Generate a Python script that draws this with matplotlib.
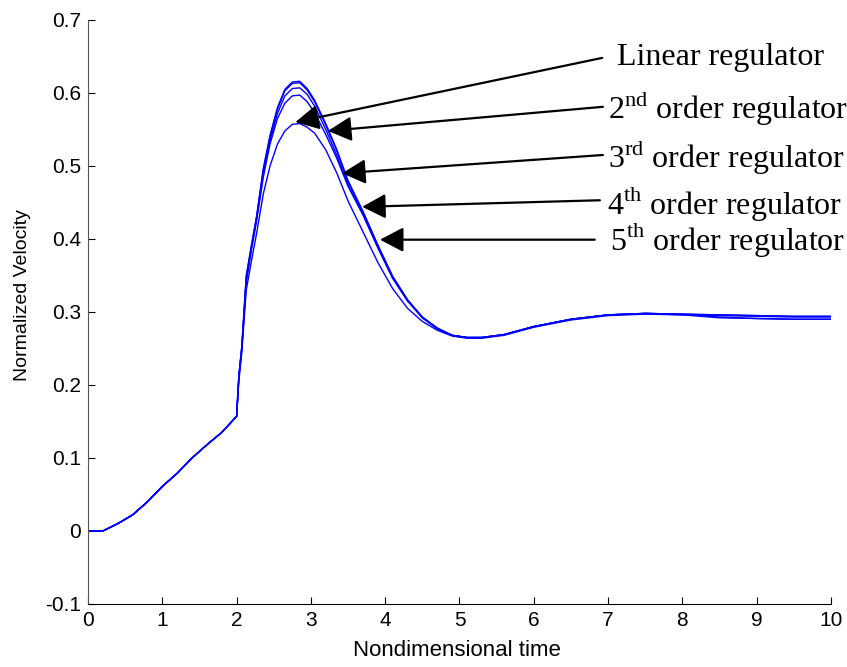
import matplotlib
matplotlib.use("Agg")
import matplotlib.pyplot as plt

plt.rcParams['mathtext.fontset'] = 'custom'
plt.rcParams['mathtext.rm'] = 'Liberation Serif'
plt.rcParams['font.family'] = 'Liberation Sans'

# ---- data ----
t = [0, 0.2, 0.4, 0.6, 0.8, 1.0, 1.2, 1.4, 1.6, 1.8, 2.0, 2.03, 2.07, 2.13,
     2.2, 2.27, 2.36, 2.45, 2.55, 2.65, 2.75, 2.85, 2.95, 3.05, 3.2, 3.35,
     3.5, 3.7, 3.9, 4.1, 4.3, 4.5, 4.7, 4.9, 5.1, 5.3, 5.6, 6.0, 6.5, 7.0,
     7.5, 8.0, 8.5, 9.0, 9.5, 10.0]

start = [0, 0, 0.010, 0.022, 0.040, 0.061, 0.079, 0.100, 0.118, 0.135, 0.157]

v_linear = start + [0.205, 0.245, 0.330, 0.370, 0.408, 0.462, 0.500, 0.530,
                    0.548, 0.557, 0.558, 0.553, 0.545, 0.522, 0.490, 0.452,
                    0.410, 0.368, 0.332, 0.305, 0.287, 0.275, 0.267, 0.264,
                    0.264, 0.268, 0.279, 0.289, 0.295, 0.297, 0.296, 0.295,
                    0.294, 0.293, 0.293]
v_2nd = start + [0.210, 0.250, 0.345, 0.388, 0.428, 0.490, 0.535, 0.572,
                 0.596, 0.606, 0.607, 0.598, 0.582, 0.550, 0.514, 0.474,
                 0.434, 0.389, 0.347, 0.316, 0.292, 0.277, 0.268, 0.265,
                 0.265, 0.269, 0.280, 0.290, 0.296, 0.298, 0.296, 0.292,
                 0.291, 0.290, 0.290]
v_3rd = start + [0.210, 0.250, 0.340, 0.385, 0.425, 0.485, 0.530, 0.565,
                 0.586, 0.596, 0.597, 0.588, 0.573, 0.543, 0.510, 0.472,
                 0.433, 0.388, 0.346, 0.315, 0.292, 0.277, 0.268, 0.265,
                 0.265, 0.269, 0.280, 0.290, 0.296, 0.298, 0.297, 0.293,
                 0.291, 0.290, 0.290]
v_4th = start + [0.212, 0.252, 0.348, 0.390, 0.430, 0.495, 0.540, 0.578,
                 0.603, 0.613, 0.614, 0.604, 0.588, 0.556, 0.520, 0.478,
                 0.437, 0.391, 0.348, 0.316, 0.293, 0.278, 0.268, 0.265,
                 0.265, 0.269, 0.280, 0.290, 0.296, 0.298, 0.297, 0.296,
                 0.295, 0.294, 0.294]
v_5th = start + [0.212, 0.253, 0.350, 0.392, 0.432, 0.497, 0.542, 0.580,
                 0.605, 0.615, 0.616, 0.606, 0.590, 0.558, 0.522, 0.480,
                 0.438, 0.392, 0.349, 0.317, 0.293, 0.278, 0.268, 0.265,
                 0.265, 0.269, 0.280, 0.290, 0.296, 0.298, 0.297, 0.296,
                 0.295, 0.294, 0.294]

series = [v_linear, v_2nd, v_3rd, v_4th, v_5th]

labels = ['Linear regulator',
          r'2$^{\mathrm{nd}}$ order regulator',
          r'3$^{\mathrm{rd}}$ order regulator',
          r'4$^{\mathrm{th}}$ order regulator',
          r'5$^{\mathrm{th}}$ order regulator']
arrow_tips = [(2.79, 0.560), (3.23, 0.548), (3.42, 0.490), (3.69, 0.444), (3.93, 0.399)]
arrow_tails = [(6.92, 0.648), (6.93, 0.581), (6.93, 0.515), (6.89, 0.453), (6.82, 0.399)]
label_pos = [(7.12, 0.649), (7.00, 0.579), (7.00, 0.512), (6.98, 0.449), (7.03, 0.399)]

# ---- figure ----
fig = plt.figure(figsize=(8.47, 6.67), dpi=100)
ax = fig.add_axes([0.1039, 0.0945, 0.8772, 0.8756])

for v in series:
    ax.plot(t, v, color='#0000ff', lw=1.0)

for lab, tip, tail, pos in zip(labels, arrow_tips, arrow_tails, label_pos):
    ax.annotate('', xy=tip, xytext=tail,
                arrowprops=dict(arrowstyle='-|>,head_length=0.8,head_width=0.42',
                                mutation_scale=18, color='black', lw=1.6,
                                shrinkA=0, shrinkB=0))
    ax.text(pos[0], pos[1], lab, fontfamily='Liberation Serif', fontsize=23,
            ha='left', va='center')

ax.set_xlim(0, 10)
ax.set_ylim(-0.1, 0.7)
ax.set_xticks(range(0, 11))
ax.set_yticks([-0.1, 0, 0.1, 0.2, 0.3, 0.4, 0.5, 0.6, 0.7])
ax.set_yticklabels(['-0.1', '0', '0.1', '0.2', '0.3', '0.4', '0.5', '0.6', '0.7'])

ax.spines['top'].set_visible(False)
ax.spines['right'].set_visible(False)
ax.spines['left'].set_color('#555555')
ax.tick_params(direction='in', length=5, labelsize=15, pad=5)

ax.set_xlabel('Nondimensional time', fontsize=16)
ax.set_ylabel('Normalized Velocity', fontsize=14)
ax.xaxis.set_label_coords(0.497, -0.062)
ax.yaxis.set_label_coords(-0.077, 0.529)

fig.savefig('out.png', dpi=100)
